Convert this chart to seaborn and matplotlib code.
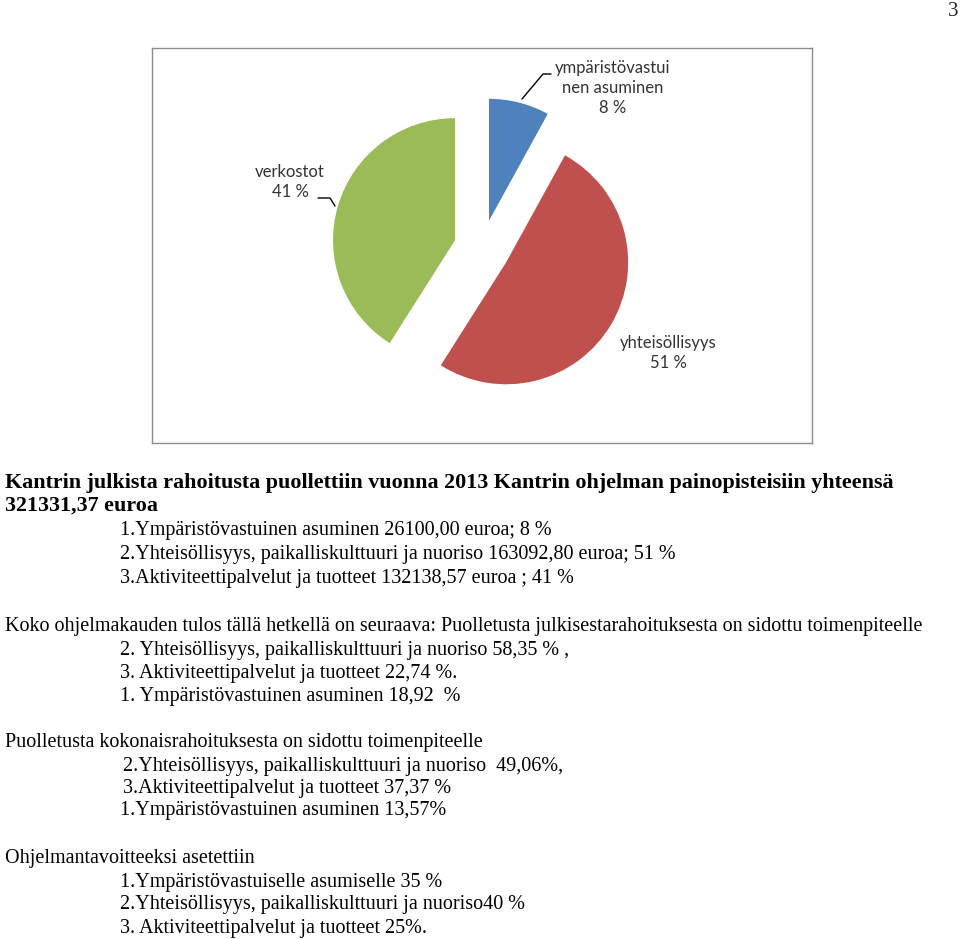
import matplotlib
matplotlib.use("Agg")
import matplotlib.pyplot as plt
import seaborn as sns

sns.set_theme(style="white")
plt.rcParams['font.family'] = ['Liberation Serif', 'DejaVu Serif']

# ---- data ----
categories = ["ympäristövastuinen asuminen", "yhteisöllisyys", "verkostot"]
label_texts = ["ympäristövastui\nnen asuminen\n8 %", "yhteisöllisyys\n51 %", "verkostot\n41 %"]
shares = [8, 51, 41]
colors = ["#4F81BD", "#C0504D", "#9BBB59"]

title_lines = ["Kantrin julkista rahoitusta puollettiin vuonna 2013 Kantrin ohjelman painopisteisiin yhteensä",
               "321331,37 euroa"]
block1 = ["1.Ympäristövastuinen asuminen 26100,00 euroa; 8 %",
          "2.Yhteisöllisyys, paikalliskulttuuri ja nuoriso 163092,80 euroa; 51 %",
          "3.Aktiviteettipalvelut ja tuotteet 132138,57 euroa ; 41 %"]
head2 = "Koko ohjelmakauden tulos tällä hetkellä on seuraava: Puolletusta julkisestarahoituksesta on sidottu toimenpiteelle"
block2 = ["2. Yhteisöllisyys, paikalliskulttuuri ja nuoriso 58,35 % ,",
          "3. Aktiviteettipalvelut ja tuotteet 22,74 %.",
          "1. Ympäristövastuinen asuminen 18,92  %"]
head3 = "Puolletusta kokonaisrahoituksesta on sidottu toimenpiteelle"
block3 = ["2.Yhteisöllisyys, paikalliskulttuuri ja nuoriso  49,06%,",
          "3.Aktiviteettipalvelut ja tuotteet 37,37 %",
          "1.Ympäristövastuinen asuminen 13,57%"]
head4 = "Ohjelmantavoitteeksi asetettiin"
block4 = ["1.Ympäristövastuiselle asumiselle 35 %",
          "2.Yhteisöllisyys, paikalliskulttuuri ja nuoriso40 %",
          "3. Aktiviteettipalvelut ja tuotteet 25%."]

W, H = 960, 939
fig = plt.figure(figsize=(W / 100, H / 100), dpi=100)
fig.patch.set_facecolor("white")

# chart box in pixels
bx0, by0, bx1, by1 = 152, 48, 812, 443
R = 122.0
cx, cy = 482, 248
ax = fig.add_axes([bx0 / W, 1 - by1 / H, (bx1 - bx0) / W, (by1 - by0) / H])
ax.pie(shares, colors=colors, startangle=90, counterclock=False,
       explode=[0.23] * 3, radius=1.0, wedgeprops=dict(linewidth=0))
ax.set_aspect("auto")
ax.set_frame_on(True)
ax.set_xlim(-(cx - bx0) / R, (bx1 - cx) / R)
ax.set_ylim(-(by1 - cy) / R, (cy - by0) / R)
ax.set_xticks([]); ax.set_yticks([])
for s in ax.spines.values():
    s.set_visible(True)
    s.set_color("#8c8c8c")
    s.set_linewidth(1.0)

def px(x, y):
    return ((x - cx) / R, (cy - y) / R)

lab_font = dict(family=['Lato', 'DejaVu Sans'], fontsize=12, color="#333333",
                linespacing=1.3)
ax.text(*px(613, 88), label_texts[0], ha="center", va="center", **lab_font)
ax.text(*px(668, 353), label_texts[1], ha="center", va="center", **lab_font)
ax.text(*px(290, 182), label_texts[2], ha="center", va="center", **lab_font)
# leader lines
x0, y0 = px(522, 99); x1, y1 = px(543, 74); x2, y2 = px(551, 74)
ax.plot([x0, x1, x2], [y0, y1, y2], color="black", lw=1.0)
x0, y0 = px(318, 198); x1, y1 = px(330, 198); x2, y2 = px(335, 206)
ax.plot([x0, x1, x2], [y0, y1, y2], color="black", lw=1.0)

# page number
fig.text(958 / W, 1 - 12 / H, "3", ha="right", va="center", fontsize=15)

fs_n, fs_b = 14.5, 15.8
def put(x, y, s, bold=False):
    fig.text(x / W, 1 - y / H, s, ha="left", va="center",
             fontsize=fs_b if bold else fs_n,
             fontweight="bold" if bold else "normal", color="black")

put(5, 483, title_lines[0], True)
put(5, 506, title_lines[1], True)
for i, s in enumerate(block1):
    put(120, 530 + 24 * i, s)
put(5, 626, head2)
for i, s in enumerate(block2):
    put(120, 650 + 23.5 * i, s)
put(5, 742, head3)
put(123, 766, block3[0]); put(123, 789, block3[1]); put(120, 811, block3[2])
put(5, 858, head4)
for i, s in enumerate(block4):
    put(120, 882 + 23 * i, s)

fig.savefig("out.png", dpi=100, facecolor="white")
